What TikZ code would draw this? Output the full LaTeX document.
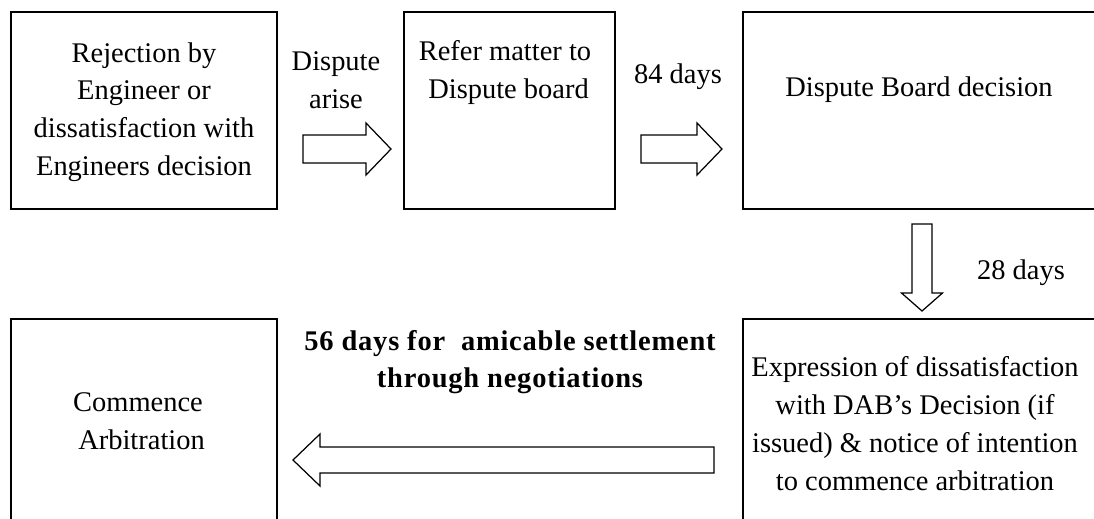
\documentclass[tikz,border=0pt]{standalone}
\usepackage{fontspec}
\setmainfont{Liberation Serif}
\begin{document}
\begin{tikzpicture}[x=0.02cm,y=-0.02cm,
  box/.style={draw,line width=1.1pt,rectangle,inner sep=0pt},
  txt/.style={align=center,inner sep=0pt,font=\fontsize{16.2}{21.5}\selectfont},
  blockarrow/.style={draw,line width=0.7pt,line join=miter,fill=white}]
\useasboundingbox (0,0) rectangle (1094,518);
\clip (0,0) rectangle (1094,518);

% process boxes (right column and bottom row run past the page edge)
\node[box,minimum width=266*0.02cm,minimum height=197*0.02cm] (b1) at (144,110.5) {};
\node[box,minimum width=211*0.02cm,minimum height=197*0.02cm] (b2) at (509.5,110.5) {};
\node[box,minimum width=357*0.02cm,minimum height=197*0.02cm] (b3) at (921.5,110.5) {};
\node[box,minimum width=357*0.02cm,minimum height=211*0.02cm] (b4) at (921.5,424.5) {};
\node[box,minimum width=266*0.02cm,minimum height=211*0.02cm] (b5) at (144,424.5) {};

% box texts
\node[txt] (t1) at (144,112) {Rejection by\\Engineer or\\dissatisfaction with\\Engineers decision};
\node[txt] (t2) at (505,72.5) {Refer matter to\\\ Dispute board};
\node[txt] (t3) at (919,90) {Dispute Board decision};
\node[txt] (t4) at (915,423.5) {Expression of dissatisfaction\\with DAB’s Decision (if\\issued) \& notice of intention\\to commence arbitration};
\node[txt] (t5) at (138,421) {Commence\\\ Arbitration};

% arrow labels
\node[txt] (l1) at (336,80) {Dispute\\arise};
\node[txt] (l2) at (678,77) {84 days};
\node[txt] (l3) at (1021,273) {28 days};
\node[txt,font=\fontsize{16.2}{21.5}\selectfont\bfseries\addfontfeature{LetterSpace=2.8}] (l4) at (510,362)
  {56 days for\ \ amicable settlement\\through negotiations};

% block arrows
\draw[blockarrow] (303,135) -- (366,135) -- (366,123) -- (391,149) -- (366,175)
  -- (366,163) -- (303,163) -- cycle;
\draw[blockarrow] (641,135) -- (697,135) -- (697,123) -- (722,149) -- (697,175)
  -- (697,163) -- (641,163) -- cycle;
\draw[blockarrow] (912,224) -- (932,224) -- (932,293) -- (942.5,293) -- (922,311)
  -- (901.5,293) -- (912,293) -- cycle;
\draw[blockarrow] (714,447) -- (320,447) -- (320,434) -- (293,460) -- (320,486)
  -- (320,473) -- (714,473) -- cycle;
\end{tikzpicture}
\end{document}
